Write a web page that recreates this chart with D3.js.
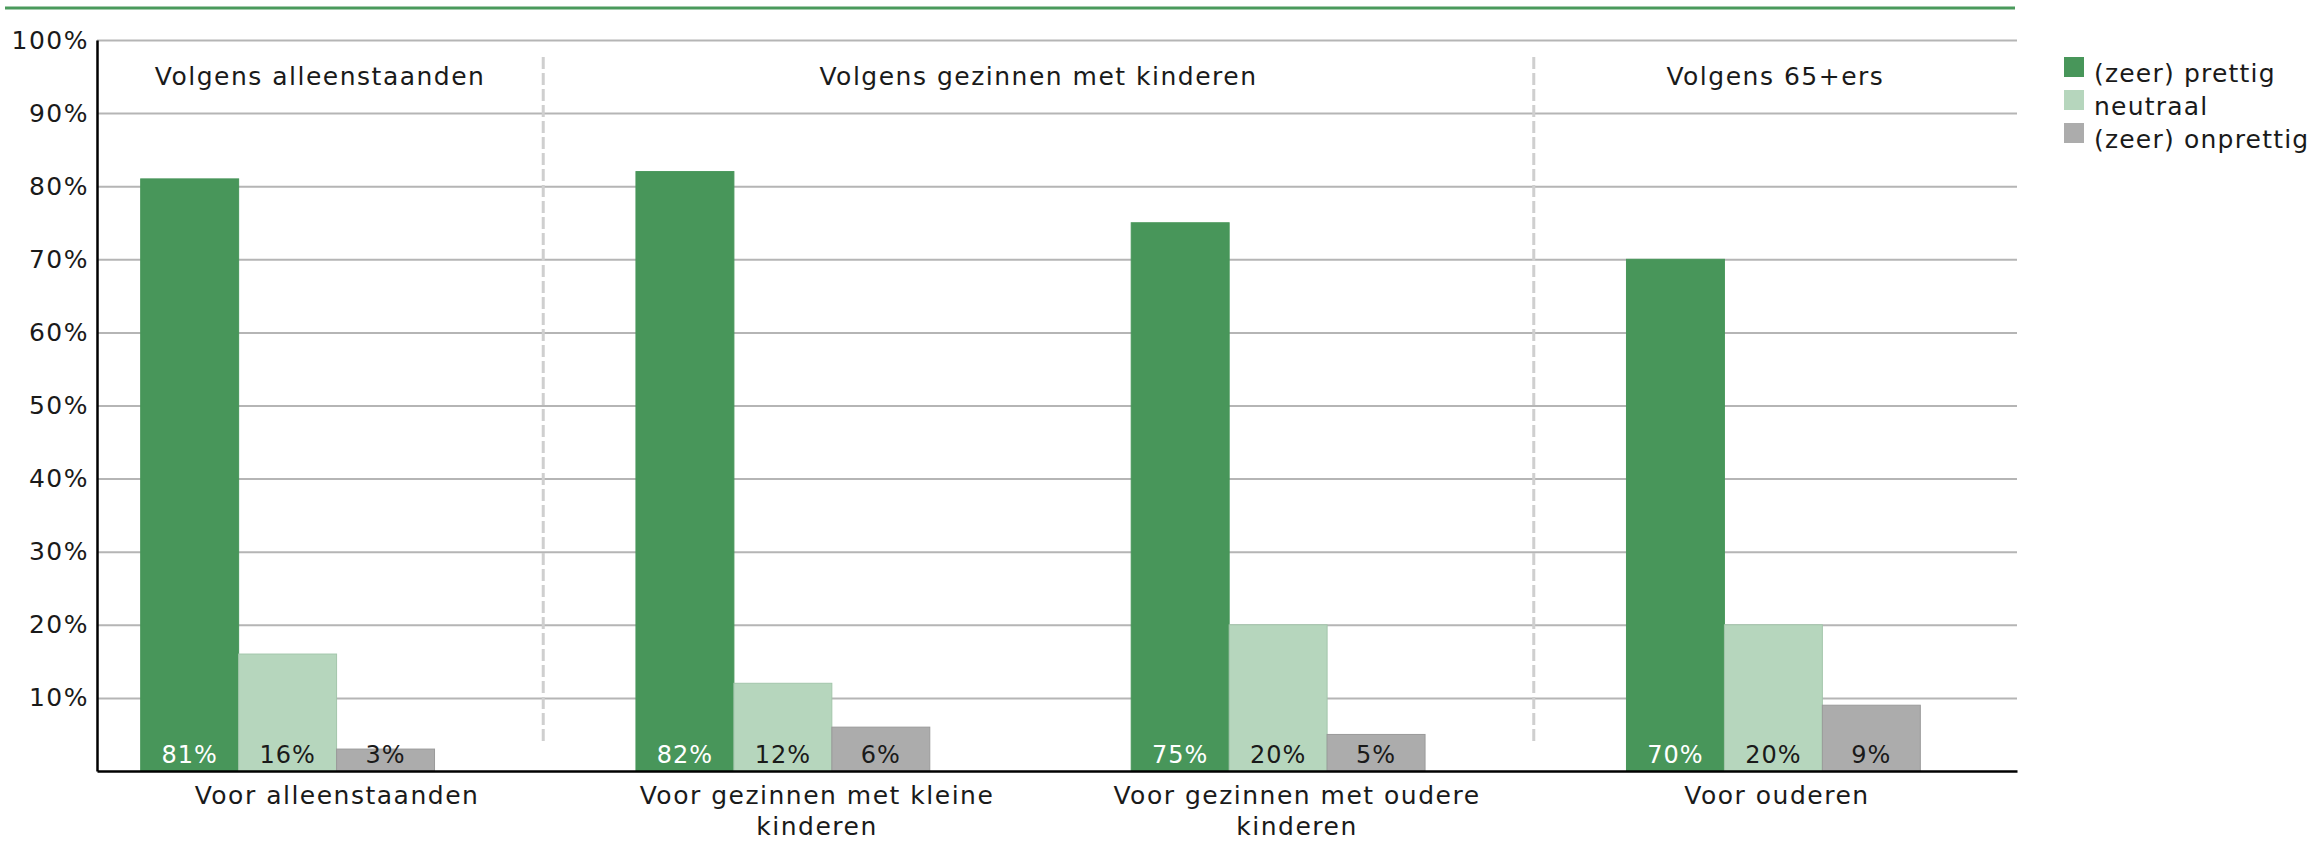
<!DOCTYPE html>
<html lang="nl">
  <head>
    <meta charset="utf-8" />
    <title>Prettig wonen naast...</title>
    <script src="https://d3js.org/d3.v7.js"></script>
    <style>
      body { margin: 0; background: #fff; }
      text {
        font-family: "DejaVu Sans", sans-serif;
        font-size: 25px;
        letter-spacing: 1.5px;
        fill: #1a1a1a;
      }
      .val { font-size: 24px; letter-spacing: 1px; }
      .legend text { letter-spacing: 1.2px; }
    </style>
  </head>
  <body>
    <script>

    // data
    var categories = ["Voor alleenstaanden", "Voor gezinnen met kleine kinderen",
                      "Voor gezinnen met oudere kinderen", "Voor ouderen"];
    var seriesNames = ["(zeer) prettig", "neutraal", "(zeer) onprettig"];
    var prettig   = [81, 82, 75, 70];
    var neutraal  = [16, 12, 20, 20];
    var onprettig = [3, 6, 5, 9];
    var yTicks = [10, 20, 30, 40, 50, 60, 70, 80, 90, 100];

    // sections above the bars (first and last category index of each)
    var sectionTitles = ["Volgens alleenstaanden", "Volgens gezinnen met kinderen", "Volgens 65+ers"];
    var sectionFirst = [0, 1, 3];
    var sectionLast  = [0, 2, 3];

    var colors = ["#48965a", "#b6d6bd", "#acacac"];
    var strokes = ["#48965a", "#a3c6ab", "#9a9a9a"];
    var labelColors = ["#ffffff", "#1a1a1a", "#1a1a1a"];

    var values = [prettig, neutraal, onprettig];
    var rows = [];
    categories.forEach(function(c, i) {
      seriesNames.forEach(function(s, j) {
        rows.push({cat: c, series: s, idx: j, value: values[j][i]});
      });
    });

    var w = 2315, h = 841;
    var plotL = 97, plotR = 2017, plotT = 40, plotB = 771;

    var svg = d3.select("body").append("svg")
      .attr("width", w)
      .attr("height", h);

    // scales
    var y = d3.scaleLinear().domain([0, 100]).range([plotB, plotT]);

    var xAxisScale = d3.scaleBand()
      .domain(categories)
      .range([plotL, plotR]);

    var x0 = d3.scaleBand()
      .domain(categories)
      .range([plotL - 57, plotR + 4])
      .paddingInner(0.4067)
      .paddingOuter(0.2033);

    var x1 = d3.scaleBand()
      .domain(seriesNames)
      .range([0, x0.bandwidth()]);

    // green line on top
    svg.append("line")
      .attr("x1", 5).attr("x2", plotR - 2)
      .attr("y1", 8).attr("y2", 8)
      .attr("stroke", "#4a9a5c")
      .attr("stroke-width", 3);

    // gridlines
    var grid = svg.append("g")
      .attr("transform", `translate(${plotL},0)`)
      .call(d3.axisLeft(y).tickValues(yTicks).tickSize(-(plotR - plotL)).tickFormat(""));
    grid.select(".domain").remove();
    grid.selectAll("line").attr("stroke", "#b5b5b5").attr("stroke-width", 2);

    // section dividers
    var dividerX = [];
    for (var k = 0; k < sectionTitles.length - 1; k++) {
      var prev = categories[sectionLast[k]], next = categories[sectionFirst[k + 1]];
      dividerX.push(((x0(prev) + x0.bandwidth()) + x0(next)) / 2 + 8);
    }
    svg.selectAll(".divider")
      .data(dividerX)
      .join("line")
        .attr("class", "divider")
        .attr("x1", d => d).attr("x2", d => d)
        .attr("y1", 57).attr("y2", 741)
        .attr("stroke", "#cfcfcf")
        .attr("stroke-width", 3)
        .attr("stroke-dasharray", "12,4");

    // section titles
    var edges = [plotL].concat(dividerX).concat([plotR]);
    svg.selectAll(".section")
      .data(sectionTitles)
      .join("text")
        .attr("class", "section")
        .attr("x", (d, i) => (edges[i] + edges[i + 1]) / 2)
        .attr("y", 85)
        .attr("text-anchor", "middle")
        .text(d => d);

    // bars
    svg.selectAll(".bar")
      .data(rows)
      .join("rect")
        .attr("class", "bar")
        .attr("x", d => x0(d.cat) + x1(d.series))
        .attr("y", d => y(d.value))
        .attr("width", x1.bandwidth())
        .attr("height", d => y(0) - y(d.value))
        .attr("fill", d => colors[d.idx])
        .attr("stroke", d => strokes[d.idx])
        .attr("stroke-width", 1);

    // value labels
    svg.selectAll(".val")
      .data(rows)
      .join("text")
        .attr("class", "val")
        .attr("x", d => x0(d.cat) + x1(d.series) + x1.bandwidth() / 2)
        .attr("y", y(0) - 8)
        .attr("text-anchor", "middle")
        .style("fill", d => labelColors[d.idx])
        .text(d => d.value + "%");

    // y axis
    var yAxis = svg.append("g")
      .attr("transform", `translate(${plotL},0)`)
      .call(d3.axisLeft(y).tickValues(yTicks).tickSize(0).tickSizeOuter(0).tickPadding(8)
        .tickFormat(d => d + "%"));
    yAxis.select(".domain").attr("stroke", "#000").attr("stroke-width", 2.5);
    yAxis.selectAll("text")
      .attr("font-family", null).attr("font-size", null)
      .style("fill", "#1a1a1a");

    // x axis
    var xAxis = svg.append("g")
      .attr("transform", `translate(0,${plotB})`)
      .call(d3.axisBottom(xAxisScale).tickSize(0).tickSizeOuter(0).tickPadding(15));
    xAxis.select(".domain").attr("stroke", "#000").attr("stroke-width", 2.5);
    xAxis.selectAll("text")
      .attr("font-family", null).attr("font-size", null)
      .style("fill", "#1a1a1a")
      .call(wrap, xAxisScale.step());

    function wrap(sel, width) {
      sel.each(function() {
        var text = d3.select(this);
        var words = text.text().split(/\s+/);
        var yy = text.attr("y"), dy = parseFloat(text.attr("dy"));
        text.text(null);
        var line = [], lineNo = 0;
        var tspan = text.append("tspan").attr("x", 0).attr("y", yy).attr("dy", dy + "em");
        words.forEach(function(word) {
          line.push(word);
          tspan.text(line.join(" "));
          if (tspan.node().getComputedTextLength() > width && line.length > 1) {
            line.pop();
            tspan.text(line.join(" "));
            line = [word];
            lineNo++;
            tspan = text.append("tspan").attr("x", 0).attr("y", yy)
              .attr("dy", (lineNo * 1.24 + dy) + "em").text(word);
          }
        });
      });
    }

    // legend
    var legend = svg.append("g").attr("class", "legend")
      .attr("transform", "translate(2064,57)");
    var items = legend.selectAll("g")
      .data(seriesNames)
      .join("g")
        .attr("transform", (d, i) => `translate(0,${i * 33})`);
    items.append("rect")
      .attr("width", 20).attr("height", 20)
      .attr("fill", (d, i) => colors[i]);
    items.append("text")
      .attr("x", 30).attr("y", 25)
      .text(d => d);

    </script>
  </body>
</html>
